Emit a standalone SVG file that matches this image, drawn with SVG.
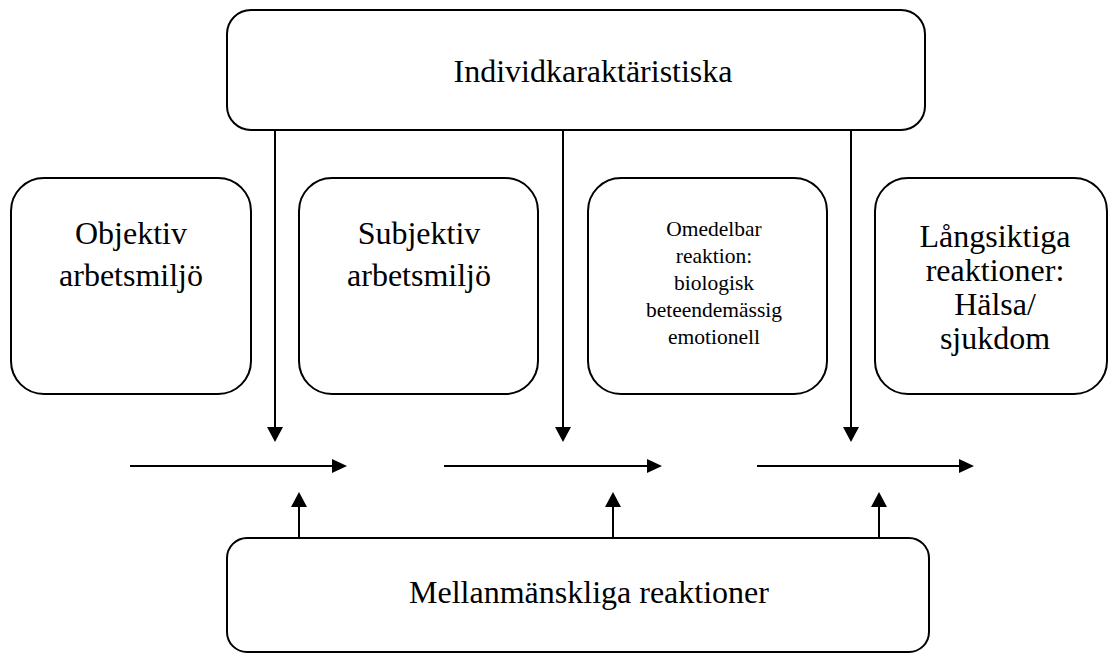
<svg xmlns="http://www.w3.org/2000/svg" width="1108" height="655" viewBox="0 0 1108 655">
<style>
.box{fill:#fff;stroke:#000;stroke-width:2}
.t{font-family:"Liberation Serif","Times New Roman",serif;font-size:32px;fill:#000;text-anchor:middle}
.s{font-size:21.5px}
.ln{stroke:#000;stroke-width:2;fill:none}
.ah{fill:#000}
</style>
<rect width="1108" height="655" fill="#fff"/>
<g id="individ">
<rect class="box" x="227" y="10" width="698" height="120" rx="24"/>
<text class="t" x="593" y="82">Individkaraktäristiska</text>
</g>
<g id="objektiv">
<rect class="box" x="11" y="178" width="240" height="216" rx="33"/>
<text class="t" x="131" y="244">Objektiv</text>
<text class="t" x="131" y="286">arbetsmiljö</text>
</g>
<g id="subjektiv">
<rect class="box" x="299" y="178" width="239" height="216" rx="33"/>
<text class="t" x="419" y="244">Subjektiv</text>
<text class="t" x="419" y="286">arbetsmiljö</text>
</g>
<g id="omedelbar">
<rect class="box" x="588" y="178" width="239" height="216" rx="33"/>
<text class="t s" x="714" y="236">Omedelbar</text>
<text class="t s" x="714" y="263">reaktion:</text>
<text class="t s" x="714" y="290">biologisk</text>
<text class="t s" x="714" y="317">beteendemässig</text>
<text class="t s" x="714" y="344">emotionell</text>
</g>
<g id="langsiktiga">
<rect class="box" x="875" y="178" width="232" height="216" rx="33"/>
<text class="t" x="995" y="247">Långsiktiga</text>
<text class="t" x="995" y="281">reaktioner:</text>
<text class="t" x="995" y="315">Hälsa/</text>
<text class="t" x="995" y="349">sjukdom</text>
</g>
<g id="mellan">
<rect class="box" x="227" y="538" width="702" height="114" rx="20"/>
<text class="t" x="589" y="603">Mellanmänskliga reaktioner</text>
</g>
<g id="connectors">
<line class="ln" x1="275" y1="130" x2="275" y2="428"/>
<polygon class="ah" points="267,427 283,427 275,442"/>
<line class="ln" x1="563" y1="130" x2="563" y2="428"/>
<polygon class="ah" points="555,427 571,427 563,442"/>
<line class="ln" x1="851" y1="130" x2="851" y2="428"/>
<polygon class="ah" points="843,427 859,427 851,442"/>
<line class="ln" x1="130" y1="466" x2="333" y2="466"/>
<polygon class="ah" points="332,459 332,473 347,466"/>
<line class="ln" x1="444" y1="466" x2="648" y2="466"/>
<polygon class="ah" points="647,459 647,473 662,466"/>
<line class="ln" x1="757" y1="466" x2="960" y2="466"/>
<polygon class="ah" points="959,459 959,473 974,466"/>
<line class="ln" x1="299" y1="538" x2="299" y2="506"/>
<polygon class="ah" points="291,507 307,507 299,492"/>
<line class="ln" x1="613" y1="538" x2="613" y2="506"/>
<polygon class="ah" points="605,507 621,507 613,492"/>
<line class="ln" x1="879" y1="538" x2="879" y2="506"/>
<polygon class="ah" points="871,507 887,507 879,492"/>
</g>
</svg>
